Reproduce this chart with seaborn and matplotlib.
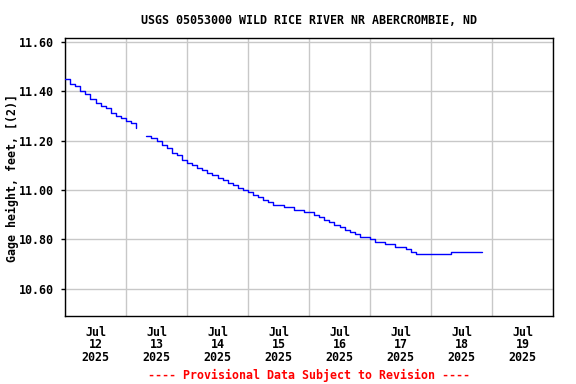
import pandas as pd
import matplotlib
matplotlib.use('Agg')
import matplotlib.pyplot as plt
import matplotlib.dates as mdates
import seaborn as sns

# hours since 2025-07-12 00:00, two pieces with a gap on Jul 13
hours_1 = [0, 2, 4, 6, 8, 10, 12, 14, 16, 18, 20, 22, 24, 26, 28]
stage_1 = [11.45, 11.43, 11.42, 11.40, 11.39, 11.37, 11.35, 11.34, 11.33, 11.31,
           11.30, 11.29, 11.28, 11.27, 11.25]

hours_2 = [32, 34, 36, 38, 40, 42, 44, 46, 48, 50, 52, 54, 56, 58, 60, 62, 64, 66,
           68, 70, 72, 74, 76, 78, 80, 82, 84, 86, 88, 90, 92, 94, 96, 98, 100, 102,
           104, 106, 108, 110, 112, 114, 116, 118, 120, 122, 124, 126, 128, 130, 132,
           134, 136, 138, 140, 142, 144, 146, 148, 150, 152, 154, 156, 158, 160, 162, 164]
stage_2 = [11.22, 11.21, 11.20, 11.18, 11.17, 11.15, 11.14, 11.12, 11.11, 11.10,
           11.09, 11.08, 11.07, 11.06, 11.05, 11.04, 11.03, 11.02, 11.01, 11.00,
           10.99, 10.98, 10.97, 10.96, 10.95, 10.94, 10.94, 10.93, 10.93, 10.92,
           10.92, 10.91, 10.91, 10.90, 10.89, 10.88, 10.87, 10.86, 10.85, 10.84,
           10.83, 10.82, 10.81, 10.81, 10.80, 10.79, 10.79, 10.78, 10.78, 10.77,
           10.77, 10.76, 10.75, 10.74, 10.74, 10.74, 10.74, 10.74, 10.74, 10.74,
           10.75, 10.75, 10.75, 10.75, 10.75, 10.75, 10.75]

y_ticks = [10.60, 10.80, 11.00, 11.20, 11.40, 11.60]

start = pd.Timestamp('2025-07-12')
df1 = pd.DataFrame({'time': start + pd.to_timedelta(hours_1, unit='h'), 'stage': stage_1})
df2 = pd.DataFrame({'time': start + pd.to_timedelta(hours_2, unit='h'), 'stage': stage_2})

sns.set_style('white')
plt.rcParams['font.family'] = ['DejaVu Sans Mono']
plt.rcParams['font.weight'] = 'bold'
plt.rcParams['text.color'] = 'black'
plt.rcParams['xtick.color'] = 'black'
plt.rcParams['ytick.color'] = 'black'
plt.rcParams['axes.labelcolor'] = 'black'
fs = 8.4

fig = plt.figure(figsize=(5.76, 3.84), dpi=100)
ax = fig.add_axes([65 / 576, 1 - 316 / 384, 488 / 576, 278 / 384])

for d in (df1, df2):
    sns.lineplot(data=d, x='time', y='stage', ax=ax, color='#0000ff', linewidth=1.0,
                 drawstyle='steps-post', zorder=3)

ax.set_xlim(start, start + pd.Timedelta(days=8))
ax.set_ylim(10.49, 11.615)

ax.xaxis.set_major_locator(mdates.HourLocator(byhour=12))
ax.xaxis.set_major_formatter(mdates.DateFormatter('%b\n%d\n%Y'))
ax.xaxis.set_minor_locator(mdates.DayLocator())
ax.set_yticks(y_ticks)
ax.set_yticklabels([f'{v:.2f}' for v in y_ticks])

ax.grid(which='minor', axis='x', color='#c8c8c8', linewidth=1)
ax.grid(which='major', axis='y', color='#c8c8c8', linewidth=1)
ax.grid(which='major', axis='x', visible=False)

ax.tick_params(axis='x', which='both', length=0, labelsize=fs, pad=7)
ax.tick_params(axis='y', which='major', length=3, width=1, direction='out', left=True,
               labelsize=fs, pad=5)
for lab in ax.get_xticklabels() + ax.get_yticklabels():
    lab.set_fontweight('bold')
    lab.set_linespacing(0.95)

for s in ax.spines.values():
    s.set_color('black')
    s.set_linewidth(1)

ax.set_xlabel('')
ax.set_ylabel('')

# texts centred on the plot area, as in the USGS graphs
mid = (65 + 553) / 2 / 576
fig.text(12 / 576, 1 - 178 / 384, 'Gage height, feet, [(2)]', rotation=90,
         ha='center', va='center', fontsize=fs, fontweight='bold')
fig.text(mid, 1 - 20 / 384, 'USGS 05053000 WILD RICE RIVER NR ABERCROMBIE, ND',
         ha='center', va='center', fontsize=fs, fontweight='bold')
fig.text(mid, 1 - 375 / 384, '---- Provisional Data Subject to Revision ----',
         ha='center', va='center', fontsize=fs, fontweight='bold', color='#ff0000')

fig.savefig('out.png', dpi=100)
